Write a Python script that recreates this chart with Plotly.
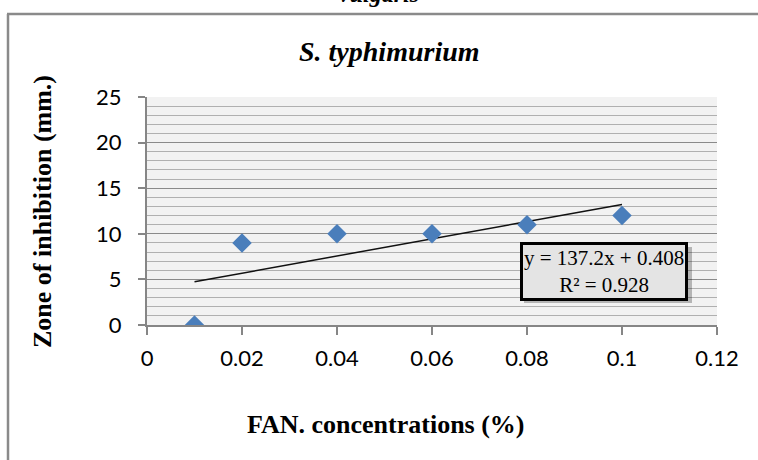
import numpy as np
import plotly.graph_objects as go

# ---- data ----
conc = [0.01, 0.02, 0.04, 0.06, 0.08, 0.10]
zone = [0, 9, 10, 10, 11, 12]
x_tickvals = [0, 0.02, 0.04, 0.06, 0.08, 0.10, 0.12]
x_ticktext = ["0", "0.02", "0.04", "0.06", "0.08", "0.1", "0.12"]
y_tickvals = [0, 5, 10, 15, 20, 25]
y_ticktext = ["0", "5", "10", "15", "20", "25"]
chart_title = "S. typhimurium"
top_cut_title = "vulgaris"
x_title = "FAN. concentrations (%)"
y_title = "Zone of inhibition (mm.)"
eq_text = "y = 137.2x + 0.408<br>R² = 0.928"

# linear trendline fitted to the data
slope, intercept = np.polyfit(conc, zone, 1)
trend_x = [min(conc), max(conc)]
trend_y = [slope * v + intercept for v in trend_x]

W, H = 758, 460
L, R, T, B = 147, 41, 97, 135
pw, ph = W - L - R, H - T - B

def px(xp):
    return (xp - L) / pw

def py(yp):
    return (H - B - yp) / ph

fig = go.Figure()
fig.add_trace(go.Scatter(
    x=trend_x, y=trend_y, mode="lines",
    line=dict(color="#111111", width=1.5), hoverinfo="skip", showlegend=False))
fig.add_trace(go.Scatter(
    x=conc, y=zone, mode="markers",
    marker=dict(symbol="diamond", size=15, color="#4a7ebb"),
    showlegend=False))

serif = "Liberation Serif, Times New Roman, serif"
sans = "Lato, Carlito, Calibri, sans-serif"

fig.update_layout(
    width=W, height=H,
    margin=dict(l=L, r=R, t=T, b=B, pad=0),
    paper_bgcolor="white",
    plot_bgcolor="#f2f2f2",
    font=dict(family=sans, color="#000000"),
    xaxis=dict(
        range=[0, 0.12], tickvals=x_tickvals, ticktext=x_ticktext,
        showgrid=False, zeroline=False,
        showline=True, linecolor="#868686", linewidth=1.5,
        ticks="outside", ticklen=8, tickcolor="#868686", tickwidth=1.5,
        tickfont=dict(family=sans, size=22, color="#000"),
        ticklabelstandoff=5,
    ),
    yaxis=dict(
        range=[0, 25], tickvals=y_tickvals, ticktext=y_ticktext,
        showgrid=True, gridcolor="#8a8a8a", gridwidth=1,
        zeroline=False,
        showline=True, linecolor="#868686", linewidth=2,
        ticks="outside", ticklen=7, tickcolor="#868686", tickwidth=1.5,
        tickfont=dict(family=sans, size=22, color="#000"),
        ticklabelstandoff=12,
        minor=dict(dtick=1, showgrid=True, gridcolor="#b0b0b0", gridwidth=1, ticks=""),
    ),
    shapes=[
        dict(type="line", xref="paper", yref="paper",
             x0=px(8), x1=px(8), y0=py(14), y1=py(470),
             line=dict(color="#8a8a8a", width=2.5)),
        dict(type="line", xref="paper", yref="paper",
             x0=px(7), x1=px(770), y0=py(14), y1=py(14),
             line=dict(color="#8a8a8a", width=2.5)),
        # soft shadow behind the equation box
        dict(type="rect", xref="paper", yref="paper", layer="above",
             x0=px(524), x1=px(692), y0=py(303), y1=py(247),
             fillcolor="rgba(0,0,0,0.25)", line=dict(width=0)),
    ],
    annotations=[
        dict(text="<b><i>" + top_cut_title + "</i></b>", xref="paper", yref="paper",
             x=px(379), y=py(9), xanchor="center", yanchor="bottom",
             showarrow=False, font=dict(family=serif, size=24, color="#000")),
        dict(text="<b><i>" + chart_title + "</i></b>", xref="paper", yref="paper",
             x=px(389), y=py(51), xanchor="center", yanchor="middle",
             showarrow=False, font=dict(family=serif, size=28, color="#000")),
        dict(text="<b>" + x_title + "</b>", xref="paper", yref="paper",
             x=px(386), y=py(424), xanchor="center", yanchor="middle",
             showarrow=False, font=dict(family=serif, size=26, color="#000")),
        dict(text="<b>" + y_title + "</b>", xref="paper", yref="paper",
             x=px(42), y=py(212), xanchor="center", yanchor="middle",
             textangle=-90, showarrow=False,
             font=dict(family=serif, size=26, color="#000")),
        dict(text=eq_text, xref="paper", yref="paper",
             x=px(604), y=py(271), xanchor="center", yanchor="middle",
             showarrow=False, align="center",
             font=dict(family=serif, size=21, color="#000"),
             bgcolor="#e4e4e4", bordercolor="#000000", borderwidth=3, borderpad=1),
    ],
)

fig.write_html("out.html", config={"displayModeBar": False},
               post_script="document.body.style.margin='0';")
